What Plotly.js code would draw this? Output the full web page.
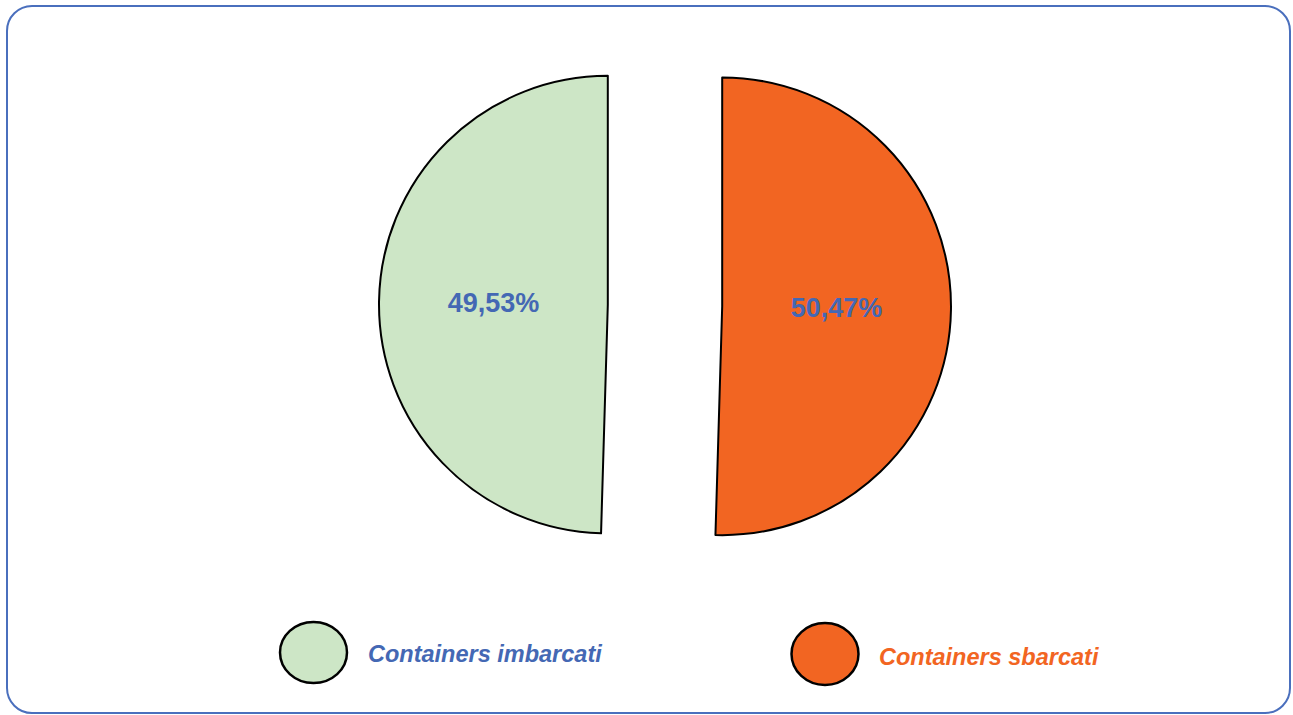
<!DOCTYPE html>
<html>
<head>
<meta charset="utf-8">
<script src="https://cdn.plot.ly/plotly-3.0.1.min.js"></script>
<style>
html,body{margin:0;padding:0;background:#ffffff;}
#chart{position:absolute;left:0;top:0;width:1293px;height:715px;}
#frame{position:absolute;left:6px;top:5px;width:1285px;height:709px;box-sizing:border-box;border:2.5px solid #4a6fbd;border-radius:26px;pointer-events:none;}
</style>
</head>
<body>
<div id="chart"></div>
<div id="frame"></div>
<script>
// ---- data ----
const labels = ['Containers imbarcati', 'Containers sbarcati'];
const values = [49.53, 50.47];

// ---- styles ----
const sliceColors = ['#CDE6C6', '#F26522'];
const legendTextColors = ['#4468B4', '#F26522'];
const labelColor = '#4468B4';
const FONT = '"Liberation Sans", Arial, sans-serif';

const W = 1293, H = 715;
const fx = p => p / W;
const fy = p => 1 - p / H;

// first slice (imbarcati) ends exactly at 12 o'clock, drawn clockwise
const total = values.reduce((a, b) => a + b, 0);
const startRotation = 360 * values[1] / total;

const trace = {
  type: 'pie',
  labels: labels,
  values: values,
  sort: false,
  direction: 'clockwise',
  rotation: startRotation,
  pull: 0.25,
  marker: { colors: sliceColors, line: { color: '#000000', width: 2 } },
  texttemplate: '%{percent:.2%}',
  textposition: 'inside',
  insidetextorientation: 'horizontal',
  textfont: { family: FONT, size: 27, color: labelColor, weight: 'bold' },
  hoverinfo: 'skip',
  showlegend: false,
  domain: { x: [fx(379), fx(951)], y: [fy(591.5), fy(19.5)] }
};

// legend built from the data arrays
const legendPos = [
  { cx: 313.5, cy: 652.5, rx: 33.5, ry: 30.5, tx: 366, ty: 654 },
  { cx: 825, cy: 654, rx: 33.5, ry: 31, tx: 877, ty: 657 }
];
const shapes = [];
const annotations = [];
labels.forEach((lab, i) => {
  const p = legendPos[i];
  shapes.push({
    type: 'circle', xref: 'paper', yref: 'paper',
    x0: fx(p.cx - p.rx), x1: fx(p.cx + p.rx),
    y0: fy(p.cy + p.ry), y1: fy(p.cy - p.ry),
    fillcolor: sliceColors[i], line: { color: '#000000', width: 2.5 }
  });
  annotations.push({
    xref: 'paper', yref: 'paper', x: fx(p.tx), y: fy(p.ty),
    xanchor: 'left', yanchor: 'middle', showarrow: false,
    text: lab,
    font: { family: FONT, size: 23.5, color: legendTextColors[i], weight: 'bold', style: 'italic' }
  });
});

const layout = {
  width: W, height: H,
  margin: { l: 0, r: 0, t: 0, b: 0 },
  paper_bgcolor: '#ffffff',
  plot_bgcolor: '#ffffff',
  separators: ',.',
  showlegend: false,
  shapes: shapes,
  annotations: annotations,
  font: { family: FONT }
};

Plotly.newPlot('chart', [trace], layout, { displayModeBar: false, staticPlot: true });
</script>
</body>
</html>
